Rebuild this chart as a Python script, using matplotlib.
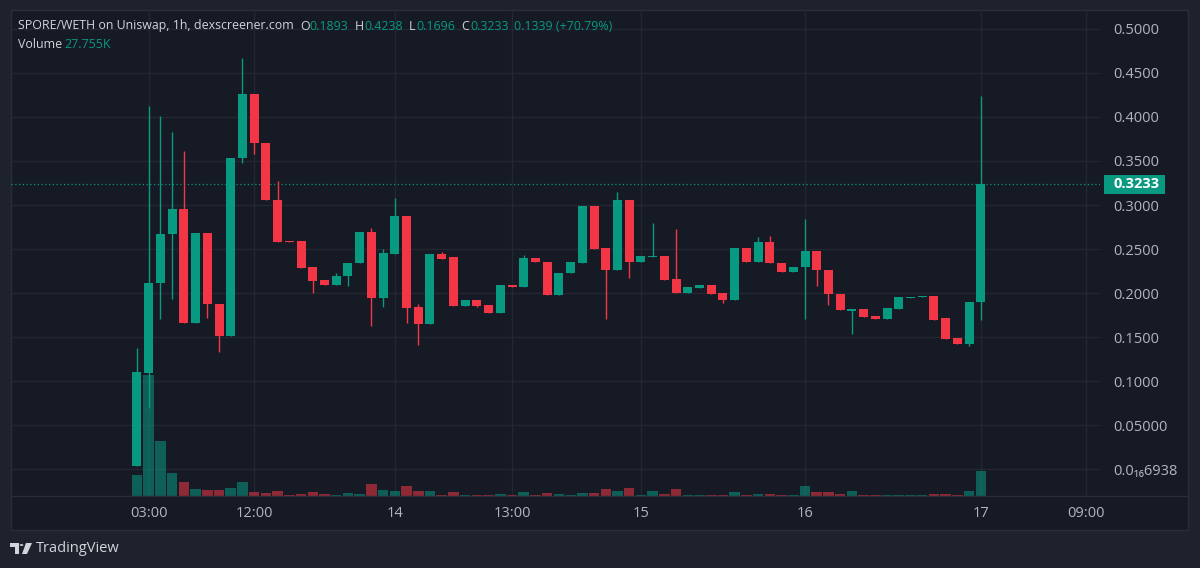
import numpy as np
import matplotlib
matplotlib.use("Agg")
import matplotlib.pyplot as plt
from matplotlib.patches import Rectangle, Polygon, Circle
from matplotlib.lines import Line2D
import matplotlib.transforms as mtransforms

plt.rcParams['font.family'] = ['Open Sans', 'DejaVu Sans']

# hourly candles
opens = [0.0034, 0.1095, 0.2110, 0.2670, 0.2960, 0.1660, 0.2685, 0.1870, 0.1515, 0.3538,
         0.4260, 0.3700, 0.3057, 0.2590, 0.2587, 0.2290, 0.2148, 0.2094, 0.2190, 0.2338,
         0.2693, 0.1943, 0.2443, 0.2875, 0.1841, 0.1644, 0.2443, 0.2405, 0.1852, 0.1920,
         0.1864, 0.1770, 0.2094, 0.2070, 0.2400, 0.2356, 0.1980, 0.2224, 0.2344, 0.2992,
         0.2508, 0.2261, 0.3057, 0.2349, 0.2409, 0.2420, 0.2155, 0.1997, 0.2057, 0.2094,
         0.1997, 0.1920, 0.2511, 0.2356, 0.2583, 0.2344, 0.2242, 0.2292, 0.2477, 0.2261,
         0.1989, 0.1799, 0.1815, 0.1735, 0.1705, 0.1818, 0.1943, 0.1950, 0.1970, 0.1712,
         0.1492, 0.1417, 0.1893]
highs = [0.1378, 0.4125, 0.4010, 0.3830, 0.3610, 0.2685, 0.2685, 0.1870, 0.3538, 0.4667,
         0.4260, 0.3700, 0.3273, 0.2590, 0.2587, 0.2300, 0.2148, 0.2224, 0.2344, 0.2693,
         0.2735, 0.2497, 0.3076, 0.2875, 0.1875, 0.2443, 0.2462, 0.2405, 0.1917, 0.1920,
         0.1864, 0.2090, 0.2094, 0.2432, 0.2400, 0.2356, 0.2230, 0.2356, 0.2992, 0.2992,
         0.2508, 0.3144, 0.3057, 0.2420, 0.2792, 0.2420, 0.2727, 0.2065, 0.2094, 0.2094,
         0.1997, 0.2511, 0.2511, 0.2640, 0.2651, 0.2344, 0.2292, 0.2837, 0.2477, 0.2261,
         0.1989, 0.1815, 0.1815, 0.1735, 0.1826, 0.1951, 0.1957, 0.1966, 0.1970, 0.1712,
         0.1492, 0.1894, 0.4238]
lows = [0.0034, 0.0690, 0.1700, 0.1930, 0.1660, 0.1660, 0.1716, 0.1333, 0.1515, 0.3480,
        0.3576, 0.3057, 0.2583, 0.2575, 0.2280, 0.1997, 0.2094, 0.2094, 0.2080, 0.2338,
        0.1625, 0.1844, 0.2443, 0.1656, 0.1410, 0.1644, 0.2390, 0.1852, 0.1852, 0.1838,
        0.1770, 0.1770, 0.2072, 0.2070, 0.2349, 0.1980, 0.1980, 0.2224, 0.2344, 0.2500,
        0.1701, 0.2261, 0.2167, 0.2349, 0.2409, 0.2148, 0.1997, 0.1997, 0.2057, 0.1989,
        0.1890, 0.1920, 0.2356, 0.2356, 0.2337, 0.2242, 0.2242, 0.1700, 0.2080, 0.1864,
        0.1807, 0.1530, 0.1724, 0.1705, 0.1705, 0.1818, 0.1943, 0.1950, 0.1693, 0.1481,
        0.1417, 0.1400, 0.1696]
closes = [0.1106, 0.2110, 0.2670, 0.2960, 0.1660, 0.2685, 0.1870, 0.1515, 0.3538, 0.4260,
          0.3700, 0.3057, 0.2583, 0.2575, 0.2280, 0.2136, 0.2094, 0.2193, 0.2344, 0.2693,
          0.1943, 0.2451, 0.2875, 0.1833, 0.1644, 0.2443, 0.2390, 0.1852, 0.1917, 0.1852,
          0.1770, 0.2090, 0.2072, 0.2401, 0.2349, 0.1980, 0.2230, 0.2356, 0.2992, 0.2500,
          0.2261, 0.3057, 0.2349, 0.2420, 0.2420, 0.2148, 0.1997, 0.2065, 0.2094, 0.1989,
          0.1920, 0.2511, 0.2356, 0.2583, 0.2337, 0.2242, 0.2292, 0.2477, 0.2261, 0.1985,
          0.1807, 0.1815, 0.1724, 0.1705, 0.1826, 0.1951, 0.1957, 0.1966, 0.1693, 0.1481,
          0.1417, 0.1894, 0.3233]
# volume in thousands
volumes = [23.3, 134.3, 61.4, 25.2, 15.2, 7.8, 6.3, 6.3, 9.2, 15.2,
           4.1, 3.0, 5.6, 1.4, 2.2, 4.1, 1.9, 1.4, 3.3, 2.2,
           13.0, 6.3, 5.6, 11.1, 5.6, 5.6, 1.4, 4.1, 1.1, 1.4,
           1.4, 2.2, 1.4, 4.1, 1.4, 3.3, 2.2, 1.1, 3.7, 3.0,
           7.8, 5.6, 8.9, 1.1, 5.6, 1.9, 7.8, 1.1, 1.1, 1.4,
           1.4, 4.1, 1.4, 2.2, 2.2, 1.4, 1.1, 11.4, 4.1, 4.1,
           2.2, 5.6, 1.4, 1.4, 1.1, 1.1, 1.1, 1.1, 2.2, 2.2,
           1.4, 5.6, 27.755]

time_pos = [1, 10, 22, 32, 43, 57, 72, 81]
time_labels = ['03:00', '12:00', '14', '13:00', '15', '16', '17', '09:00']
price_ticks = [0.5, 0.45, 0.4, 0.35, 0.3, 0.25, 0.2, 0.15, 0.1, 0.05, 0.0]
price_labels = ['0.5000', '0.4500', '0.4000', '0.3500', '0.3000', '0.2500', '0.2000',
                '0.1500', '0.1000', '0.05000', '0.0\u2081\u20866938']
last_price = 0.3233
change = 0.1339
change_pct = 70.79

UP = '#089981'
DOWN = '#f23645'
BG = '#161a25'
OUTER = '#1e222d'
GRID = '#242733'
TXT = '#b2b5be'
LBL = '#d1d4dc'

W, H = 1200, 568
fig = plt.figure(figsize=(W / 100, H / 100), dpi=100, facecolor=OUTER)


def fx(x):
    return x / W


def fy(y):
    return 1 - y / H


# chart frame
fig.add_artist(Rectangle((fx(11), fy(530)), fx(1188) - fx(11), fy(10) - fy(530),
                         transform=fig.transFigure, facecolor=BG, edgecolor='#2a2e39',
                         lw=1, zorder=0))
fig.add_artist(Line2D([fx(11), fx(1188)], [fy(496), fy(496)], transform=fig.transFigure,
                      color='#2a2e39', lw=1, zorder=1))

rect = [fx(11), fy(496), fx(1100) - fx(11), fy(10) - fy(496)]
# grid/ticks axes at the bottom, then volume, then candles on top
gax = fig.add_axes(rect)
vax = fig.add_axes(rect, sharex=gax)
ax = fig.add_axes(rect, sharex=gax, sharey=gax)
for a in (gax, vax, ax):
    a.set_facecolor('none')
    for s in a.spines.values():
        s.set_visible(False)

x = np.arange(len(opens))
o = np.array(opens)
c = np.array(closes)
up = c >= o
cols = np.where(up, UP, DOWN)

# volume
vax.bar(x, volumes, width=0.9, color=cols, alpha=0.55, linewidth=0)
vax.set_ylim(0, 539.6)
vax.axis('off')

# candles
ax.vlines(x, lows, highs, colors=cols, lw=1, zorder=2)
body = np.maximum(np.abs(c - o), 0.0012)
ax.bar(x, body, bottom=np.minimum(o, c), width=0.77, color=cols, linewidth=0, zorder=3)
ax.axhline(last_price, color=UP, lw=0.9, ls=(0, (1, 2)), zorder=1)
ax.tick_params(left=False, right=False, bottom=False, labelleft=False, labelbottom=False)

gax.set_xlim(-10.75, 82.17)
gax.set_ylim(-0.03068, 0.52159)
gax.set_xticks(time_pos, time_labels)
gax.yaxis.tick_right()
gax.set_yticks(price_ticks, price_labels)
gax.tick_params(axis='y', length=0, pad=9.4, colors=TXT, labelsize=10.5)
gax.tick_params(axis='x', length=0, pad=7, colors=TXT, labelsize=10.5)
for lab in gax.get_yticklabels():
    lab.set_horizontalalignment('left')
gax.grid(color=GRID, lw=1)

# last price tag
bt = mtransforms.blended_transform_factory(fig.transFigure, ax.transData)
fig.add_artist(Rectangle((fx(1104), last_price - 0.0108), fx(1165) - fx(1104), 0.0216,
                         transform=bt, facecolor=UP, edgecolor='none', zorder=5))
fig.text(fx(1113), last_price, '%.4f' % last_price, transform=bt, color='white',
         fontsize=10.5, fontweight='bold', va='center', ha='left', zorder=6)

# legend line
fs = 8.9
fig.text(fx(18), fy(26), 'SPORE/WETH on Uniswap, 1h, dexscreener.com', color=LBL,
         fontsize=fs, va='center')
parts = [(300, 'O', opens[-1]), (355, 'H', highs[-1]),
         (409, 'L', lows[-1]), (461, 'C', closes[-1])]
for px, k, v in parts:
    fig.text(fx(px), fy(26), k, color=LBL, fontsize=fs, va='center')
    fig.text(fx(px + (7 if k == 'L' else 9)), fy(26), '%.4f' % v, color=UP, fontsize=fs,
             va='center')
fig.text(fx(514), fy(26), '%.4f (+%.2f%%)' % (change, change_pct), color=UP,
         fontsize=fs, va='center')
fig.text(fx(18), fy(44), 'Volume', color=LBL, fontsize=fs, va='center')
fig.text(fx(64), fy(44), '%.3fK' % volumes[-1], color=UP, fontsize=fs, va='center')

# TradingView mark
fig.add_artist(Rectangle((fx(10), fy(547)), fx(9), fy(543) - fy(547), transform=fig.transFigure,
                         facecolor=LBL, edgecolor='none'))
fig.add_artist(Rectangle((fx(14.5), fy(554)), fx(4), fy(543) - fy(554), transform=fig.transFigure,
                         facecolor=LBL, edgecolor='none'))
fig.add_artist(Circle((fx(21.5), fy(545)), 1.9 / W, transform=fig.transFigure,
                      facecolor=LBL, edgecolor='none'))
fig.add_artist(Polygon([(fx(26), fy(543)), (fx(32), fy(543)), (fx(27), fy(554)), (fx(22), fy(554))],
                       closed=True, transform=fig.transFigure, facecolor=LBL, edgecolor='none'))
fig.text(fx(36), fy(549), 'TradingView', color=LBL, fontsize=10.5, va='center')

fig.savefig('out.png', dpi=100, facecolor=OUTER)
